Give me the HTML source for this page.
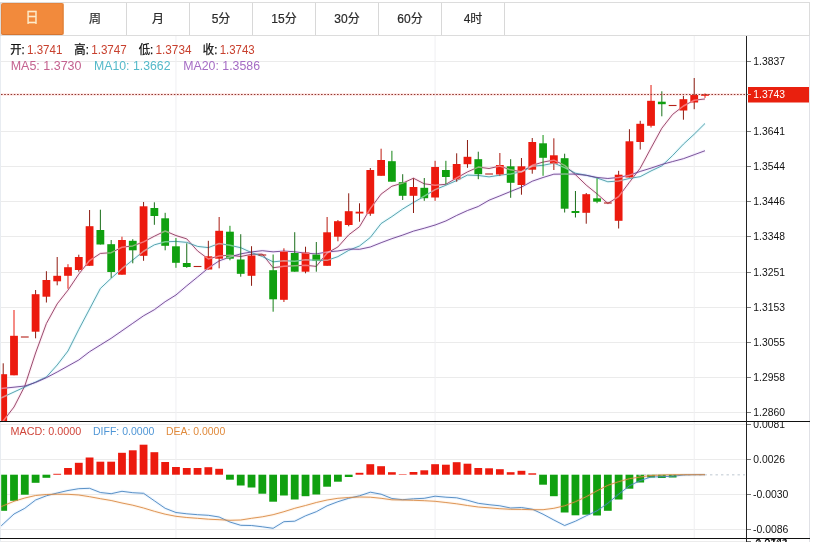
<!DOCTYPE html>
<html lang="zh-CN"><head><meta charset="utf-8"><title>K线图</title>
<style>
html,body{margin:0;padding:0;background:#fff;}
body{width:816px;height:542px;overflow:hidden;position:relative;font-family:"Liberation Sans","Noto Sans CJK SC",sans-serif;}
#tabs{position:absolute;left:0;top:2px;width:808px;height:32px;border:1px solid #dcdcdc;box-sizing:content-box;}
#tabs .t{position:absolute;top:0;height:32px;width:62px;border-right:1px solid #d8d8d8;text-align:center;line-height:32px;font-size:12px;color:#2a2a2a;-webkit-text-stroke:0.2px #2a2a2a;}
#tabs .t.on{background:#f28a3c;color:#fdeccb;-webkit-text-stroke:0.3px #fdeccb;border-radius:2px;left:0px;top:0px;width:62px;height:32px;border-right:1px solid #e79a5c;font-size:13.5px;line-height:29px;box-shadow:inset 0 -1px 0 0 rgba(190,100,40,.45), inset 0 0 0 1px rgba(200,110,50,.25)}
svg{position:absolute;left:0;top:0;}
text{font-family:"Liberation Sans","Noto Sans CJK SC",sans-serif;}
</style></head><body>
<div id="tabs">
<div class="t on">日</div>
<div class="t" style="left:63px">周</div>
<div class="t" style="left:126px">月</div>
<div class="t" style="left:189px">5分</div>
<div class="t" style="left:252px">15分</div>
<div class="t" style="left:315px">30分</div>
<div class="t" style="left:378px">60分</div>
<div class="t" style="left:441px">4时</div>
</div>
<svg width="816" height="542" viewBox="0 0 816 542">
<g shape-rendering="crispEdges">
<rect x="0" y="36" width="1" height="506" fill="#e8ecf1"/>
<rect x="809" y="36" width="1" height="506" fill="#e0e1e6"/>
<rect x="1" y="61" width="745" height="1" fill="#ebebeb"/>
<rect x="1" y="131" width="745" height="1" fill="#ebebeb"/>
<rect x="1" y="166" width="745" height="1" fill="#ebebeb"/>
<rect x="1" y="201" width="745" height="1" fill="#ebebeb"/>
<rect x="1" y="236" width="745" height="1" fill="#ebebeb"/>
<rect x="1" y="272" width="745" height="1" fill="#ebebeb"/>
<rect x="1" y="307" width="745" height="1" fill="#ebebeb"/>
<rect x="1" y="342" width="745" height="1" fill="#ebebeb"/>
<rect x="1" y="377" width="745" height="1" fill="#ebebeb"/>
<rect x="1" y="412" width="745" height="1" fill="#ebebeb"/>
<rect x="1" y="424" width="746" height="1" fill="#ebebeb"/>
<rect x="1" y="459" width="746" height="1" fill="#ebebeb"/>
<rect x="1" y="494" width="746" height="1" fill="#ebebeb"/>
<rect x="1" y="529" width="746" height="1" fill="#ebebeb"/>
</g>
<rect x="175.45" y="36" width="1" height="502" fill="#efeff2"/>
<rect x="434.58" y="36" width="1" height="502" fill="#efeff2"/>
<rect x="693.71" y="36" width="1" height="502" fill="#efeff2"/>
<g clip-path="url(#cm)">
<defs><clipPath id="cm"><rect x="1.2" y="36" width="745" height="385"/></clipPath><clipPath id="cs"><rect x="1.2" y="422" width="745" height="116"/></clipPath><clipPath id="cz"><rect x="636" y="470" width="110" height="10"/></clipPath></defs>
<polyline fill="none" stroke="#ff4fa0" stroke-opacity="0.09" stroke-width="3" stroke-linejoin="round" points="0,425.15 3.2,421 14,407 24.79,386 35.59,353 46.39,323.54 57.19,303.86 67.98,290.14 78.78,274.14 89.58,260.54 100.37,253.44 111.17,252.68 121.97,247.24 132.76,245.9 143.56,241.92 154.36,236.22 165.16,230.98 175.95,235.54 186.75,238.88 197.55,250.92 208.34,258.98 219.14,255.98 229.94,255.16 240.73,256.52 251.53,254.32 262.33,254.06 273.12,267.76 283.92,266.28 294.72,265.86 305.52,265.26 316.31,266.38 327.11,252.98 337.91,246.96 348.7,234.86 359.5,226.7 370.3,208.58 381.1,194.12 391.89,186.22 402.69,183.14 413.49,178.2 424.28,183.84 435.08,185.24 445.88,184.3 456.67,177.94 467.47,171.9 478.27,167.1 489.06,168.5 499.86,166.1 510.66,169.86 521.46,171.76 532.25,165.32 543.05,162.08 553.85,160.14 564.64,165.32 575.44,174.66 586.24,185.1 597.04,193.88 607.83,203.42 618.63,196.62 629.43,182.28 640.22,168.2 651.02,148.02 661.82,128.26 672.61,114.42 683.41,106 694.21,100.24 705.01,98.94"/><polyline fill="none" stroke="#862f55" stroke-width="0.85" stroke-linejoin="round" points="0,425.15 3.2,421 14,407 24.79,386 35.59,353 46.39,323.54 57.19,303.86 67.98,290.14 78.78,274.14 89.58,260.54 100.37,253.44 111.17,252.68 121.97,247.24 132.76,245.9 143.56,241.92 154.36,236.22 165.16,230.98 175.95,235.54 186.75,238.88 197.55,250.92 208.34,258.98 219.14,255.98 229.94,255.16 240.73,256.52 251.53,254.32 262.33,254.06 273.12,267.76 283.92,266.28 294.72,265.86 305.52,265.26 316.31,266.38 327.11,252.98 337.91,246.96 348.7,234.86 359.5,226.7 370.3,208.58 381.1,194.12 391.89,186.22 402.69,183.14 413.49,178.2 424.28,183.84 435.08,185.24 445.88,184.3 456.67,177.94 467.47,171.9 478.27,167.1 489.06,168.5 499.86,166.1 510.66,169.86 521.46,171.76 532.25,165.32 543.05,162.08 553.85,160.14 564.64,165.32 575.44,174.66 586.24,185.1 597.04,193.88 607.83,203.42 618.63,196.62 629.43,182.28 640.22,168.2 651.02,148.02 661.82,128.26 672.61,114.42 683.41,106 694.21,100.24 705.01,98.94"/>
<polyline fill="none" stroke="#20d8f0" stroke-opacity="0.09" stroke-width="3" stroke-linejoin="round" points="0,398.48 3.2,397 14,392 24.79,387 35.59,382 46.39,377 57.19,365 67.98,351 78.78,329.5 89.58,309 100.37,288.49 111.17,278.27 121.97,268.69 132.76,260.02 143.56,251.23 154.36,244.83 165.16,241.83 175.95,241.39 186.75,242.39 197.55,246.42 208.34,247.6 219.14,243.48 229.94,245.35 240.73,247.7 251.53,252.62 262.33,256.52 273.12,261.87 283.92,260.72 294.72,261.19 305.52,259.79 316.31,260.22 327.11,260.37 337.91,256.62 348.7,250.36 359.5,245.98 370.3,237.48 381.1,223.55 391.89,216.59 402.69,209 413.49,202.45 424.28,196.21 435.08,189.68 445.88,185.26 456.67,180.54 467.47,175.05 478.27,175.47 489.06,176.87 499.86,175.2 510.66,173.9 521.46,171.83 532.25,166.21 543.05,165.29 553.85,163.12 564.64,167.59 575.44,173.21 586.24,175.21 597.04,177.98 607.83,181.78 618.63,180.97 629.43,178.47 640.22,176.65 651.02,170.95 661.82,165.84 672.61,155.52 683.41,144.14 694.21,134.22 705.01,123.48"/><polyline fill="none" stroke="#3f929f" stroke-width="0.85" stroke-linejoin="round" points="0,398.48 3.2,397 14,392 24.79,387 35.59,382 46.39,377 57.19,365 67.98,351 78.78,329.5 89.58,309 100.37,288.49 111.17,278.27 121.97,268.69 132.76,260.02 143.56,251.23 154.36,244.83 165.16,241.83 175.95,241.39 186.75,242.39 197.55,246.42 208.34,247.6 219.14,243.48 229.94,245.35 240.73,247.7 251.53,252.62 262.33,256.52 273.12,261.87 283.92,260.72 294.72,261.19 305.52,259.79 316.31,260.22 327.11,260.37 337.91,256.62 348.7,250.36 359.5,245.98 370.3,237.48 381.1,223.55 391.89,216.59 402.69,209 413.49,202.45 424.28,196.21 435.08,189.68 445.88,185.26 456.67,180.54 467.47,175.05 478.27,175.47 489.06,176.87 499.86,175.2 510.66,173.9 521.46,171.83 532.25,166.21 543.05,165.29 553.85,163.12 564.64,167.59 575.44,173.21 586.24,175.21 597.04,177.98 607.83,181.78 618.63,180.97 629.43,178.47 640.22,176.65 651.02,170.95 661.82,165.84 672.61,155.52 683.41,144.14 694.21,134.22 705.01,123.48"/>
<polyline fill="none" stroke="#a040ff" stroke-opacity="0.09" stroke-width="3" stroke-linejoin="round" points="0,388.63 3.2,388.3 14,387.2 24.79,386 35.59,382.5 46.39,377.7 57.19,372 67.98,366 78.78,360 89.58,351.7 100.37,345 111.17,338.3 121.97,330.8 132.76,323.3 143.56,315.8 154.36,309.7 165.16,301.7 175.95,295 186.75,285.8 197.55,277 208.34,268.05 219.14,260.88 229.94,257.02 240.73,253.86 251.53,251.93 262.33,250.68 273.12,251.85 283.92,251.06 294.72,251.79 305.52,253.11 316.31,253.91 327.11,251.93 337.91,250.99 348.7,249.03 359.5,249.3 370.3,247 381.1,242.71 391.89,238.66 402.69,235.09 413.49,231.12 424.28,228.22 435.08,225.03 445.88,220.94 456.67,215.45 467.47,210.52 478.27,206.48 489.06,200.21 499.86,195.9 510.66,191.45 521.46,187.14 532.25,181.21 543.05,177.49 553.85,174.19 564.64,174.07 575.44,174.13 586.24,175.34 597.04,177.43 607.83,178.49 618.63,177.44 629.43,175.15 640.22,171.43 651.02,168.12 661.82,164.48 672.61,161.56 683.41,158.68 694.21,154.72 705.01,150.73"/><polyline fill="none" stroke="#633a85" stroke-width="0.85" stroke-linejoin="round" points="0,388.63 3.2,388.3 14,387.2 24.79,386 35.59,382.5 46.39,377.7 57.19,372 67.98,366 78.78,360 89.58,351.7 100.37,345 111.17,338.3 121.97,330.8 132.76,323.3 143.56,315.8 154.36,309.7 165.16,301.7 175.95,295 186.75,285.8 197.55,277 208.34,268.05 219.14,260.88 229.94,257.02 240.73,253.86 251.53,251.93 262.33,250.68 273.12,251.85 283.92,251.06 294.72,251.79 305.52,253.11 316.31,253.91 327.11,251.93 337.91,250.99 348.7,249.03 359.5,249.3 370.3,247 381.1,242.71 391.89,238.66 402.69,235.09 413.49,231.12 424.28,228.22 435.08,225.03 445.88,220.94 456.67,215.45 467.47,210.52 478.27,206.48 489.06,200.21 499.86,195.9 510.66,191.45 521.46,187.14 532.25,181.21 543.05,177.49 553.85,174.19 564.64,174.07 575.44,174.13 586.24,175.34 597.04,177.43 607.83,178.49 618.63,177.44 629.43,175.15 640.22,171.43 651.02,168.12 661.82,164.48 672.61,161.56 683.41,158.68 694.21,154.72 705.01,150.73"/>
<rect x="2.7" y="363.3" width="1" height="62.7" fill="#8c1c12"/>
<rect x="-0.7" y="374.2" width="7.8" height="51.8" fill="#ec1a0e"/>
<rect x="13.5" y="310" width="1" height="65.3" fill="#eb1a0e"/>
<rect x="10.1" y="335.8" width="7.8" height="39.5" fill="#ec1a0e"/>
<rect x="20.89" y="336.45" width="7.8" height="1.1" fill="#b5221a"/>
<rect x="35.09" y="290" width="1" height="48.3" fill="#8c1c12"/>
<rect x="31.69" y="294.2" width="7.8" height="37.5" fill="#ec1a0e"/>
<rect x="45.89" y="271.2" width="1" height="31.3" fill="#8c1c12"/>
<rect x="42.49" y="280" width="7.8" height="16.7" fill="#ec1a0e"/>
<rect x="56.69" y="257" width="1" height="28.3" fill="#931c12"/>
<rect x="53.29" y="275.8" width="7.8" height="5.5" fill="#ec1a0e"/>
<rect x="67.48" y="264.2" width="1" height="24.5" fill="#e31a0e"/>
<rect x="64.08" y="267.2" width="7.8" height="8.6" fill="#ec1a0e"/>
<rect x="78.28" y="254.7" width="1" height="17" fill="#8c1c12"/>
<rect x="74.88" y="257" width="7.8" height="13" fill="#ec1a0e"/>
<rect x="89.08" y="210" width="1" height="55.8" fill="#8c1c12"/>
<rect x="85.68" y="226.2" width="7.8" height="39.6" fill="#ec1a0e"/>
<rect x="99.87" y="209.7" width="1" height="34.8" fill="#1a6e1a"/>
<rect x="96.47" y="230" width="7.8" height="14.5" fill="#10a010"/>
<rect x="110.67" y="240" width="1" height="37.8" fill="#197519"/>
<rect x="107.27" y="244.2" width="7.8" height="27.8" fill="#10a010"/>
<rect x="121.47" y="236.7" width="1" height="38" fill="#dc1a0f"/>
<rect x="118.07" y="240" width="7.8" height="34.7" fill="#ec1a0e"/>
<rect x="132.26" y="239.2" width="1" height="24.1" fill="#1a6e1a"/>
<rect x="128.86" y="240.8" width="7.8" height="9.5" fill="#10a010"/>
<rect x="143.06" y="202" width="1" height="58.8" fill="#8c1c12"/>
<rect x="139.66" y="206.3" width="7.8" height="49.5" fill="#ec1a0e"/>
<rect x="153.86" y="202.3" width="1" height="22.5" fill="#1a6e1a"/>
<rect x="150.46" y="208" width="7.8" height="8" fill="#10a010"/>
<rect x="164.66" y="212.8" width="1" height="37.5" fill="#187918"/>
<rect x="161.25" y="218.3" width="7.8" height="27.5" fill="#10a010"/>
<rect x="175.45" y="238" width="1" height="29.8" fill="#129412"/>
<rect x="172.05" y="246.3" width="7.8" height="16.5" fill="#10a010"/>
<rect x="186.25" y="243.3" width="1" height="24.5" fill="#1a6e1a"/>
<rect x="182.85" y="263" width="7.8" height="4" fill="#10a010"/>
<rect x="193.65" y="265.95" width="7.8" height="1.1" fill="#b5221a"/>
<rect x="207.84" y="240.8" width="1" height="28.7" fill="#8c1c12"/>
<rect x="204.44" y="256.3" width="7.8" height="13.2" fill="#ec1a0e"/>
<rect x="218.64" y="217" width="1" height="51.3" fill="#a91b11"/>
<rect x="215.24" y="230.8" width="7.8" height="27.9" fill="#ec1a0e"/>
<rect x="229.44" y="225.8" width="1" height="34.5" fill="#139013"/>
<rect x="226.04" y="231.7" width="7.8" height="27" fill="#10a010"/>
<rect x="240.23" y="234.2" width="1" height="42.5" fill="#1a6e1a"/>
<rect x="236.83" y="259.5" width="7.8" height="14.3" fill="#10a010"/>
<rect x="251.03" y="246.2" width="1" height="39.6" fill="#8c1c12"/>
<rect x="247.63" y="255.5" width="7.8" height="20.3" fill="#ec1a0e"/>
<rect x="258.43" y="254.45" width="7.8" height="1.1" fill="#b5221a"/>
<rect x="272.62" y="254.5" width="1" height="57.2" fill="#168116"/>
<rect x="269.23" y="270.2" width="7.8" height="29.1" fill="#10a010"/>
<rect x="283.42" y="248.3" width="1" height="53.7" fill="#c71b10"/>
<rect x="280.02" y="251.3" width="7.8" height="48.5" fill="#ec1a0e"/>
<rect x="294.22" y="232.2" width="1" height="39.5" fill="#1a6e1a"/>
<rect x="290.82" y="253" width="7.8" height="18.7" fill="#10a010"/>
<rect x="305.02" y="246.7" width="1" height="26.6" fill="#8c1c12"/>
<rect x="301.62" y="252.5" width="7.8" height="19.2" fill="#ec1a0e"/>
<rect x="315.81" y="242" width="1" height="29.7" fill="#1a6e1a"/>
<rect x="312.41" y="254.5" width="7.8" height="6.1" fill="#10a010"/>
<rect x="326.61" y="217" width="1" height="48.8" fill="#b71b10"/>
<rect x="323.21" y="232.3" width="7.8" height="33.5" fill="#ec1a0e"/>
<rect x="337.41" y="220" width="1" height="21.3" fill="#bf1b10"/>
<rect x="334.01" y="221.2" width="7.8" height="15.5" fill="#ec1a0e"/>
<rect x="348.2" y="193.3" width="1" height="33" fill="#8c1c12"/>
<rect x="344.8" y="211.2" width="7.8" height="13.8" fill="#ec1a0e"/>
<rect x="359" y="203.3" width="1" height="18.4" fill="#8c1c12"/>
<rect x="355.6" y="211.7" width="7.8" height="1.8" fill="#ec1a0e"/>
<rect x="369.8" y="168" width="1" height="47.8" fill="#8c1c12"/>
<rect x="366.4" y="170" width="7.8" height="43.7" fill="#ec1a0e"/>
<rect x="380.6" y="148.7" width="1" height="27.1" fill="#be1b10"/>
<rect x="377.2" y="160" width="7.8" height="15.8" fill="#ec1a0e"/>
<rect x="391.39" y="150.8" width="1" height="30.9" fill="#158515"/>
<rect x="387.99" y="161.2" width="7.8" height="20.5" fill="#10a010"/>
<rect x="402.19" y="174.2" width="1" height="25.8" fill="#1a6e1a"/>
<rect x="398.79" y="182.2" width="7.8" height="13.6" fill="#10a010"/>
<rect x="412.99" y="178.3" width="1" height="34.7" fill="#8c1c12"/>
<rect x="409.59" y="187" width="7.8" height="8.8" fill="#ec1a0e"/>
<rect x="423.78" y="178" width="1" height="22.8" fill="#1a6e1a"/>
<rect x="420.38" y="187.8" width="7.8" height="10.4" fill="#10a010"/>
<rect x="434.58" y="160.8" width="1" height="40" fill="#c61b10"/>
<rect x="431.18" y="167" width="7.8" height="30.5" fill="#ec1a0e"/>
<rect x="445.38" y="160.8" width="1" height="23.4" fill="#168116"/>
<rect x="441.98" y="170" width="7.8" height="7" fill="#10a010"/>
<rect x="456.17" y="153.3" width="1" height="28.4" fill="#8c1c12"/>
<rect x="452.77" y="164" width="7.8" height="15.4" fill="#ec1a0e"/>
<rect x="466.97" y="140" width="1" height="27.8" fill="#8c1c12"/>
<rect x="463.57" y="156.8" width="7.8" height="7.4" fill="#ec1a0e"/>
<rect x="477.77" y="151.7" width="1" height="27.5" fill="#1a6e1a"/>
<rect x="474.37" y="159.2" width="7.8" height="15" fill="#10a010"/>
<rect x="485.17" y="173.45" width="7.8" height="1.1" fill="#b5221a"/>
<rect x="499.36" y="153" width="1" height="22.8" fill="#aa1b11"/>
<rect x="495.96" y="165" width="7.8" height="9.5" fill="#ec1a0e"/>
<rect x="510.16" y="159.2" width="1" height="38.6" fill="#1a6e1a"/>
<rect x="506.76" y="166.3" width="7.8" height="16.5" fill="#10a010"/>
<rect x="520.96" y="158" width="1" height="36.7" fill="#8c1c12"/>
<rect x="517.56" y="166.3" width="7.8" height="18.7" fill="#ec1a0e"/>
<rect x="531.75" y="138" width="1" height="35.7" fill="#8c1c12"/>
<rect x="528.35" y="142" width="7.8" height="27.7" fill="#ec1a0e"/>
<rect x="542.55" y="135" width="1" height="40.8" fill="#139313"/>
<rect x="539.15" y="143.3" width="7.8" height="14.5" fill="#10a010"/>
<rect x="553.35" y="138.3" width="1" height="31.7" fill="#a31c11"/>
<rect x="549.95" y="155.3" width="7.8" height="8.4" fill="#ec1a0e"/>
<rect x="564.14" y="153.7" width="1" height="58.8" fill="#1a6e1a"/>
<rect x="560.74" y="158.2" width="7.8" height="50.5" fill="#10a010"/>
<rect x="574.94" y="191" width="1" height="26.5" fill="#1a6e1a"/>
<rect x="571.54" y="211" width="7.8" height="2" fill="#10a010"/>
<rect x="585.74" y="193" width="1" height="30.7" fill="#8c1c12"/>
<rect x="582.34" y="194.2" width="7.8" height="18.6" fill="#ec1a0e"/>
<rect x="596.54" y="178.3" width="1" height="24.9" fill="#129712"/>
<rect x="593.14" y="198.3" width="7.8" height="3.4" fill="#10a010"/>
<rect x="603.93" y="202.45" width="7.8" height="1.1" fill="#b5221a"/>
<rect x="618.13" y="170.8" width="1" height="57.7" fill="#8c1c12"/>
<rect x="614.73" y="174.7" width="7.8" height="46.1" fill="#ec1a0e"/>
<rect x="628.93" y="129.2" width="1" height="48.3" fill="#8c1c12"/>
<rect x="625.53" y="141.3" width="7.8" height="36.2" fill="#ec1a0e"/>
<rect x="639.72" y="120.8" width="1" height="28.7" fill="#8c1c12"/>
<rect x="636.32" y="123.8" width="7.8" height="18.2" fill="#ec1a0e"/>
<rect x="650.52" y="85" width="1" height="42.5" fill="#e21a0e"/>
<rect x="647.12" y="100.8" width="7.8" height="25" fill="#ec1a0e"/>
<rect x="661.32" y="91.3" width="1" height="25" fill="#197219"/>
<rect x="657.92" y="101.7" width="7.8" height="2.5" fill="#10a010"/>
<rect x="668.71" y="104.95" width="7.8" height="1.1" fill="#b5221a"/>
<rect x="682.91" y="95.8" width="1" height="23.9" fill="#8c1c12"/>
<rect x="679.51" y="99.2" width="7.8" height="11.3" fill="#ec1a0e"/>
<rect x="693.71" y="78" width="1" height="31.2" fill="#8c1c12"/>
<rect x="690.31" y="95" width="7.8" height="7.5" fill="#ec1a0e"/>
<rect x="704.51" y="93.4" width="1" height="4.5" fill="#ea1a0e"/>
<rect x="701.11" y="94.3" width="7.8" height="1.5" fill="#ec1a0e"/>
<defs><clipPath id="cbod"><rect x="-0.7" y="374.2" width="7.8" height="51.8"/><rect x="10.1" y="335.8" width="7.8" height="39.5"/><rect x="31.69" y="294.2" width="7.8" height="37.5"/><rect x="42.49" y="280" width="7.8" height="16.7"/><rect x="53.29" y="275.8" width="7.8" height="5.5"/><rect x="64.08" y="267.2" width="7.8" height="8.6"/><rect x="74.88" y="257" width="7.8" height="13"/><rect x="85.68" y="226.2" width="7.8" height="39.6"/><rect x="96.47" y="230" width="7.8" height="14.5"/><rect x="107.27" y="244.2" width="7.8" height="27.8"/><rect x="118.07" y="240" width="7.8" height="34.7"/><rect x="128.86" y="240.8" width="7.8" height="9.5"/><rect x="139.66" y="206.3" width="7.8" height="49.5"/><rect x="150.46" y="208" width="7.8" height="8"/><rect x="161.25" y="218.3" width="7.8" height="27.5"/><rect x="172.05" y="246.3" width="7.8" height="16.5"/><rect x="182.85" y="263" width="7.8" height="4"/><rect x="204.44" y="256.3" width="7.8" height="13.2"/><rect x="215.24" y="230.8" width="7.8" height="27.9"/><rect x="226.04" y="231.7" width="7.8" height="27"/><rect x="236.83" y="259.5" width="7.8" height="14.3"/><rect x="247.63" y="255.5" width="7.8" height="20.3"/><rect x="269.23" y="270.2" width="7.8" height="29.1"/><rect x="280.02" y="251.3" width="7.8" height="48.5"/><rect x="290.82" y="253" width="7.8" height="18.7"/><rect x="301.62" y="252.5" width="7.8" height="19.2"/><rect x="312.41" y="254.5" width="7.8" height="6.1"/><rect x="323.21" y="232.3" width="7.8" height="33.5"/><rect x="334.01" y="221.2" width="7.8" height="15.5"/><rect x="344.8" y="211.2" width="7.8" height="13.8"/><rect x="355.6" y="211.7" width="7.8" height="1.8"/><rect x="366.4" y="170" width="7.8" height="43.7"/><rect x="377.2" y="160" width="7.8" height="15.8"/><rect x="387.99" y="161.2" width="7.8" height="20.5"/><rect x="398.79" y="182.2" width="7.8" height="13.6"/><rect x="409.59" y="187" width="7.8" height="8.8"/><rect x="420.38" y="187.8" width="7.8" height="10.4"/><rect x="431.18" y="167" width="7.8" height="30.5"/><rect x="441.98" y="170" width="7.8" height="7"/><rect x="452.77" y="164" width="7.8" height="15.4"/><rect x="463.57" y="156.8" width="7.8" height="7.4"/><rect x="474.37" y="159.2" width="7.8" height="15"/><rect x="495.96" y="165" width="7.8" height="9.5"/><rect x="506.76" y="166.3" width="7.8" height="16.5"/><rect x="517.56" y="166.3" width="7.8" height="18.7"/><rect x="528.35" y="142" width="7.8" height="27.7"/><rect x="539.15" y="143.3" width="7.8" height="14.5"/><rect x="549.95" y="155.3" width="7.8" height="8.4"/><rect x="560.74" y="158.2" width="7.8" height="50.5"/><rect x="571.54" y="211" width="7.8" height="2"/><rect x="582.34" y="194.2" width="7.8" height="18.6"/><rect x="593.14" y="198.3" width="7.8" height="3.4"/><rect x="614.73" y="174.7" width="7.8" height="46.1"/><rect x="625.53" y="141.3" width="7.8" height="36.2"/><rect x="636.32" y="123.8" width="7.8" height="18.2"/><rect x="647.12" y="100.8" width="7.8" height="25"/><rect x="657.92" y="101.7" width="7.8" height="2.5"/><rect x="679.51" y="99.2" width="7.8" height="11.3"/><rect x="690.31" y="95" width="7.8" height="7.5"/><rect x="701.11" y="94.3" width="7.8" height="1.5"/></clipPath></defs>
<g clip-path="url(#cbod)">
<polyline fill="none" stroke="#ffd0e0" stroke-opacity="0.5" stroke-width="1.5" stroke-linejoin="round" points="0,425.15 3.2,421 14,407 24.79,386 35.59,353 46.39,323.54 57.19,303.86 67.98,290.14 78.78,274.14 89.58,260.54 100.37,253.44 111.17,252.68 121.97,247.24 132.76,245.9 143.56,241.92 154.36,236.22 165.16,230.98 175.95,235.54 186.75,238.88 197.55,250.92 208.34,258.98 219.14,255.98 229.94,255.16 240.73,256.52 251.53,254.32 262.33,254.06 273.12,267.76 283.92,266.28 294.72,265.86 305.52,265.26 316.31,266.38 327.11,252.98 337.91,246.96 348.7,234.86 359.5,226.7 370.3,208.58 381.1,194.12 391.89,186.22 402.69,183.14 413.49,178.2 424.28,183.84 435.08,185.24 445.88,184.3 456.67,177.94 467.47,171.9 478.27,167.1 489.06,168.5 499.86,166.1 510.66,169.86 521.46,171.76 532.25,165.32 543.05,162.08 553.85,160.14 564.64,165.32 575.44,174.66 586.24,185.1 597.04,193.88 607.83,203.42 618.63,196.62 629.43,182.28 640.22,168.2 651.02,148.02 661.82,128.26 672.61,114.42 683.41,106 694.21,100.24 705.01,98.94"/>
<polyline fill="none" stroke="#d8fbff" stroke-opacity="0.5" stroke-width="1.5" stroke-linejoin="round" points="0,398.48 3.2,397 14,392 24.79,387 35.59,382 46.39,377 57.19,365 67.98,351 78.78,329.5 89.58,309 100.37,288.49 111.17,278.27 121.97,268.69 132.76,260.02 143.56,251.23 154.36,244.83 165.16,241.83 175.95,241.39 186.75,242.39 197.55,246.42 208.34,247.6 219.14,243.48 229.94,245.35 240.73,247.7 251.53,252.62 262.33,256.52 273.12,261.87 283.92,260.72 294.72,261.19 305.52,259.79 316.31,260.22 327.11,260.37 337.91,256.62 348.7,250.36 359.5,245.98 370.3,237.48 381.1,223.55 391.89,216.59 402.69,209 413.49,202.45 424.28,196.21 435.08,189.68 445.88,185.26 456.67,180.54 467.47,175.05 478.27,175.47 489.06,176.87 499.86,175.2 510.66,173.9 521.46,171.83 532.25,166.21 543.05,165.29 553.85,163.12 564.64,167.59 575.44,173.21 586.24,175.21 597.04,177.98 607.83,181.78 618.63,180.97 629.43,178.47 640.22,176.65 651.02,170.95 661.82,165.84 672.61,155.52 683.41,144.14 694.21,134.22 705.01,123.48"/>
<polyline fill="none" stroke="#ecd8ff" stroke-opacity="0.5" stroke-width="1.5" stroke-linejoin="round" points="0,388.63 3.2,388.3 14,387.2 24.79,386 35.59,382.5 46.39,377.7 57.19,372 67.98,366 78.78,360 89.58,351.7 100.37,345 111.17,338.3 121.97,330.8 132.76,323.3 143.56,315.8 154.36,309.7 165.16,301.7 175.95,295 186.75,285.8 197.55,277 208.34,268.05 219.14,260.88 229.94,257.02 240.73,253.86 251.53,251.93 262.33,250.68 273.12,251.85 283.92,251.06 294.72,251.79 305.52,253.11 316.31,253.91 327.11,251.93 337.91,250.99 348.7,249.03 359.5,249.3 370.3,247 381.1,242.71 391.89,238.66 402.69,235.09 413.49,231.12 424.28,228.22 435.08,225.03 445.88,220.94 456.67,215.45 467.47,210.52 478.27,206.48 489.06,200.21 499.86,195.9 510.66,191.45 521.46,187.14 532.25,181.21 543.05,177.49 553.85,174.19 564.64,174.07 575.44,174.13 586.24,175.34 597.04,177.43 607.83,178.49 618.63,177.44 629.43,175.15 640.22,171.43 651.02,168.12 661.82,164.48 672.61,161.56 683.41,158.68 694.21,154.72 705.01,150.73"/>
</g>
</g>
<line x1="1" y1="94.5" x2="746" y2="94.5" stroke="#ff5a50" stroke-opacity="0.12" stroke-width="3"/>
<line x1="1" y1="94.5" x2="746" y2="94.5" stroke="#93382f" stroke-width="1" stroke-dasharray="1.6 1.6"/>
<g clip-path="url(#cs)">
<rect x="-0.7" y="474.7" width="7.8" height="36.1" fill="#10a010"/>
<rect x="10.1" y="474.7" width="7.8" height="26.1" fill="#10a010"/>
<rect x="20.89" y="474.7" width="7.8" height="20" fill="#10a010"/>
<rect x="31.69" y="474.7" width="7.8" height="8.1" fill="#10a010"/>
<rect x="42.49" y="474.7" width="7.8" height="3.1" fill="#10a010"/>
<rect x="53.29" y="473.8" width="7.8" height="0.9" fill="#ec1a0e"/>
<rect x="64.08" y="468" width="7.8" height="6.7" fill="#ec1a0e"/>
<rect x="74.88" y="462.8" width="7.8" height="11.9" fill="#ec1a0e"/>
<rect x="85.68" y="457.5" width="7.8" height="17.2" fill="#ec1a0e"/>
<rect x="96.47" y="461.7" width="7.8" height="13" fill="#ec1a0e"/>
<rect x="107.27" y="461.7" width="7.8" height="13" fill="#ec1a0e"/>
<rect x="118.07" y="452.8" width="7.8" height="21.9" fill="#ec1a0e"/>
<rect x="128.86" y="450.3" width="7.8" height="24.4" fill="#ec1a0e"/>
<rect x="139.66" y="444.7" width="7.8" height="30" fill="#ec1a0e"/>
<rect x="150.46" y="452.2" width="7.8" height="22.5" fill="#ec1a0e"/>
<rect x="161.25" y="462" width="7.8" height="12.7" fill="#ec1a0e"/>
<rect x="172.05" y="467" width="7.8" height="7.7" fill="#ec1a0e"/>
<rect x="182.85" y="468" width="7.8" height="6.7" fill="#ec1a0e"/>
<rect x="193.65" y="468" width="7.8" height="6.7" fill="#ec1a0e"/>
<rect x="204.44" y="467.2" width="7.8" height="7.5" fill="#ec1a0e"/>
<rect x="215.24" y="468.8" width="7.8" height="5.9" fill="#ec1a0e"/>
<rect x="226.04" y="474.7" width="7.8" height="5" fill="#10a010"/>
<rect x="236.83" y="474.7" width="7.8" height="10.8" fill="#10a010"/>
<rect x="247.63" y="474.7" width="7.8" height="12.8" fill="#10a010"/>
<rect x="258.43" y="474.7" width="7.8" height="19" fill="#10a010"/>
<rect x="269.23" y="474.7" width="7.8" height="27" fill="#10a010"/>
<rect x="280.02" y="474.7" width="7.8" height="20.8" fill="#10a010"/>
<rect x="290.82" y="474.7" width="7.8" height="24.8" fill="#10a010"/>
<rect x="301.62" y="474.7" width="7.8" height="21.5" fill="#10a010"/>
<rect x="312.41" y="474.7" width="7.8" height="19.8" fill="#10a010"/>
<rect x="323.21" y="474.7" width="7.8" height="12" fill="#10a010"/>
<rect x="334.01" y="474.7" width="7.8" height="7" fill="#10a010"/>
<rect x="344.8" y="474.7" width="7.8" height="2.3" fill="#10a010"/>
<rect x="355.6" y="472.8" width="7.8" height="1.9" fill="#ec1a0e"/>
<rect x="366.4" y="464.2" width="7.8" height="10.5" fill="#ec1a0e"/>
<rect x="377.2" y="466.2" width="7.8" height="8.5" fill="#ec1a0e"/>
<rect x="387.99" y="472.2" width="7.8" height="2.5" fill="#ec1a0e"/>
<rect x="398.79" y="474.2" width="7.8" height="0.5" fill="#ec1a0e"/>
<rect x="409.59" y="472" width="7.8" height="2.7" fill="#ec1a0e"/>
<rect x="420.38" y="470.3" width="7.8" height="4.4" fill="#ec1a0e"/>
<rect x="431.18" y="464.2" width="7.8" height="10.5" fill="#ec1a0e"/>
<rect x="441.98" y="464.7" width="7.8" height="10" fill="#ec1a0e"/>
<rect x="452.77" y="462.2" width="7.8" height="12.5" fill="#ec1a0e"/>
<rect x="463.57" y="463.7" width="7.8" height="11" fill="#ec1a0e"/>
<rect x="474.37" y="468" width="7.8" height="6.7" fill="#ec1a0e"/>
<rect x="485.17" y="468.3" width="7.8" height="6.4" fill="#ec1a0e"/>
<rect x="495.96" y="469.2" width="7.8" height="5.5" fill="#ec1a0e"/>
<rect x="506.76" y="472.2" width="7.8" height="2.5" fill="#ec1a0e"/>
<rect x="517.56" y="470.8" width="7.8" height="3.9" fill="#ec1a0e"/>
<rect x="528.35" y="473.3" width="7.8" height="1.4" fill="#ec1a0e"/>
<rect x="539.15" y="474.7" width="7.8" height="10" fill="#10a010"/>
<rect x="549.95" y="474.7" width="7.8" height="21.5" fill="#10a010"/>
<rect x="560.74" y="474.7" width="7.8" height="37.8" fill="#10a010"/>
<rect x="571.54" y="474.7" width="7.8" height="40.6" fill="#10a010"/>
<rect x="582.34" y="474.7" width="7.8" height="40" fill="#10a010"/>
<rect x="593.14" y="474.7" width="7.8" height="40.8" fill="#10a010"/>
<rect x="603.93" y="474.7" width="7.8" height="36.1" fill="#10a010"/>
<rect x="614.73" y="474.7" width="7.8" height="24.8" fill="#10a010"/>
<rect x="625.53" y="474.7" width="7.8" height="14" fill="#10a010"/>
<rect x="636.32" y="474.7" width="7.8" height="7.8" fill="#10a010"/>
<rect x="647.12" y="474.7" width="7.8" height="2.8" fill="#10a010"/>
<rect x="657.92" y="474.7" width="7.8" height="3.3" fill="#10a010"/>
<rect x="668.71" y="474.7" width="7.8" height="2.8" fill="#10a010"/>
<rect x="679.51" y="474.7" width="7.8" height="0.3" fill="#10a010"/>
<line x1="0.5" y1="474.7" x2="745" y2="474.7" stroke="#d3dae0" stroke-width="1.4" stroke-dasharray="2.4 3.1" clip-path="url(#cz)"/>
<polyline fill="none" stroke="#40a0ff" stroke-opacity="0.09" stroke-width="3" stroke-linejoin="round" points="0,526.96 3.2,524 14,514 24.79,508.3 35.59,500 46.39,495.8 57.19,493 67.98,490.5 78.78,488.7 89.58,488.3 100.37,492.5 111.17,493.7 121.97,491.3 132.76,492.7 143.56,493.3 154.36,500.8 165.16,508.3 175.95,512.5 186.75,513.8 197.55,514.7 208.34,515.3 219.14,517 229.94,522 240.73,525.3 251.53,525.5 262.33,526.8 273.12,528.3 283.92,521.7 294.72,521.2 305.52,515.8 316.31,511.7 327.11,505.8 337.91,501.7 348.7,498.3 359.5,495.8 370.3,492.2 381.1,494.2 391.89,498.5 402.69,499.7 413.49,498.8 424.28,498.3 435.08,496.2 445.88,497.2 456.67,497.8 467.47,500.3 478.27,503.3 489.06,504.7 499.86,505.8 510.66,508 521.46,507.5 532.25,509.2 543.05,514.2 553.85,520 564.64,525.5 575.44,521.2 586.24,515.8 597.04,510.8 607.83,503.3 618.63,494.2 629.43,485.8 640.22,480.5 651.02,477 661.82,476.7 672.61,476.3 683.41,475 694.21,474.7 705.01,474.7"/><polyline fill="none" stroke="#4a86c0" stroke-width="0.9" stroke-linejoin="round" points="0,526.96 3.2,524 14,514 24.79,508.3 35.59,500 46.39,495.8 57.19,493 67.98,490.5 78.78,488.7 89.58,488.3 100.37,492.5 111.17,493.7 121.97,491.3 132.76,492.7 143.56,493.3 154.36,500.8 165.16,508.3 175.95,512.5 186.75,513.8 197.55,514.7 208.34,515.3 219.14,517 229.94,522 240.73,525.3 251.53,525.5 262.33,526.8 273.12,528.3 283.92,521.7 294.72,521.2 305.52,515.8 316.31,511.7 327.11,505.8 337.91,501.7 348.7,498.3 359.5,495.8 370.3,492.2 381.1,494.2 391.89,498.5 402.69,499.7 413.49,498.8 424.28,498.3 435.08,496.2 445.88,497.2 456.67,497.8 467.47,500.3 478.27,503.3 489.06,504.7 499.86,505.8 510.66,508 521.46,507.5 532.25,509.2 543.05,514.2 553.85,520 564.64,525.5 575.44,521.2 586.24,515.8 597.04,510.8 607.83,503.3 618.63,494.2 629.43,485.8 640.22,480.5 651.02,477 661.82,476.7 672.61,476.3 683.41,475 694.21,474.7 705.01,474.7"/>
<polyline fill="none" stroke="#ff9020" stroke-opacity="0.09" stroke-width="3" stroke-linejoin="round" points="0,507.13 3.2,505.8 14,501.3 24.79,498 35.59,495.5 46.39,494.5 57.19,494.2 67.98,494.3 78.78,495 89.58,496.7 100.37,498.7 111.17,500.5 121.97,503 132.76,505.2 143.56,508 154.36,511.3 165.16,514.2 175.95,516.3 186.75,517.5 197.55,518.3 208.34,519.2 219.14,519.7 229.94,520.3 240.73,520 251.53,518.3 262.33,516.8 273.12,514.7 283.92,511.7 294.72,508.3 305.52,505.5 316.31,502.5 327.11,500 337.91,498.3 348.7,497.5 359.5,497 370.3,497.2 381.1,498.3 391.89,499.8 402.69,500 413.49,500.3 424.28,500.7 435.08,501.3 445.88,502.5 456.67,503.8 467.47,505.5 478.27,507 489.06,507.8 499.86,508.7 510.66,509.3 521.46,509.4 532.25,509.7 543.05,509.7 553.85,508.3 564.64,505.8 575.44,501.7 586.24,496.7 597.04,490.8 607.83,485.3 618.63,481.7 629.43,478.7 640.22,477 651.02,475.5 661.82,475 672.61,474.7 683.41,474.7 694.21,474.7 705.01,474.7"/><polyline fill="none" stroke="#d98a45" stroke-width="0.9" stroke-linejoin="round" points="0,507.13 3.2,505.8 14,501.3 24.79,498 35.59,495.5 46.39,494.5 57.19,494.2 67.98,494.3 78.78,495 89.58,496.7 100.37,498.7 111.17,500.5 121.97,503 132.76,505.2 143.56,508 154.36,511.3 165.16,514.2 175.95,516.3 186.75,517.5 197.55,518.3 208.34,519.2 219.14,519.7 229.94,520.3 240.73,520 251.53,518.3 262.33,516.8 273.12,514.7 283.92,511.7 294.72,508.3 305.52,505.5 316.31,502.5 327.11,500 337.91,498.3 348.7,497.5 359.5,497 370.3,497.2 381.1,498.3 391.89,499.8 402.69,500 413.49,500.3 424.28,500.7 435.08,501.3 445.88,502.5 456.67,503.8 467.47,505.5 478.27,507 489.06,507.8 499.86,508.7 510.66,509.3 521.46,509.4 532.25,509.7 543.05,509.7 553.85,508.3 564.64,505.8 575.44,501.7 586.24,496.7 597.04,490.8 607.83,485.3 618.63,481.7 629.43,478.7 640.22,477 651.02,475.5 661.82,475 672.61,474.7 683.41,474.7 694.21,474.7 705.01,474.7"/>
</g>
<g shape-rendering="crispEdges">
<rect x="0" y="421" width="810" height="1" fill="#111"/>
<rect x="0" y="538" width="810" height="1" fill="#111"/>
<rect x="746" y="36" width="1" height="506" fill="#222"/>
<rect x="747" y="61" width="3.5" height="1" fill="#777"/>
<rect x="747" y="131" width="3.5" height="1" fill="#777"/>
<rect x="747" y="166" width="3.5" height="1" fill="#777"/>
<rect x="747" y="201" width="3.5" height="1" fill="#777"/>
<rect x="747" y="236" width="3.5" height="1" fill="#777"/>
<rect x="747" y="272" width="3.5" height="1" fill="#777"/>
<rect x="747" y="307" width="3.5" height="1" fill="#777"/>
<rect x="747" y="342" width="3.5" height="1" fill="#777"/>
<rect x="747" y="377" width="3.5" height="1" fill="#777"/>
<rect x="747" y="412" width="3.5" height="1" fill="#777"/>
<rect x="747" y="94" width="3.5" height="1" fill="#777"/>
<rect x="747" y="424" width="3.5" height="1" fill="#777"/>
<rect x="747" y="459" width="3.5" height="1" fill="#777"/>
<rect x="747" y="494" width="3.5" height="1" fill="#777"/>
<rect x="747" y="529" width="3.5" height="1" fill="#777"/>
<rect x="747" y="541" width="3.5" height="1" fill="#777"/>
</g>
<rect x="748" y="87" width="61" height="15.5" fill="#e9200e"/>
<rect x="748" y="94" width="3" height="1" fill="#f7b9b0"/>
<rect x="1" y="541" width="745" height="1" fill="#ececec"/>
<text x="753.3" y="65.2" fill="#111" font-size="10.8" textLength="31.6" lengthAdjust="spacingAndGlyphs">1.3837</text>
<text x="753.3" y="135.2" fill="#111" font-size="10.8" textLength="31.6" lengthAdjust="spacingAndGlyphs">1.3641</text>
<text x="753.3" y="170.2" fill="#111" font-size="10.8" textLength="31.6" lengthAdjust="spacingAndGlyphs">1.3544</text>
<text x="753.3" y="205.2" fill="#111" font-size="10.8" textLength="31.6" lengthAdjust="spacingAndGlyphs">1.3446</text>
<text x="753.3" y="240.2" fill="#111" font-size="10.8" textLength="31.6" lengthAdjust="spacingAndGlyphs">1.3348</text>
<text x="753.3" y="276.2" fill="#111" font-size="10.8" textLength="31.6" lengthAdjust="spacingAndGlyphs">1.3251</text>
<text x="753.3" y="311.2" fill="#111" font-size="10.8" textLength="31.6" lengthAdjust="spacingAndGlyphs">1.3153</text>
<text x="753.3" y="346.2" fill="#111" font-size="10.8" textLength="31.6" lengthAdjust="spacingAndGlyphs">1.3055</text>
<text x="753.3" y="381.2" fill="#111" font-size="10.8" textLength="31.6" lengthAdjust="spacingAndGlyphs">1.2958</text>
<text x="753.3" y="416.2" fill="#111" font-size="10.8" textLength="31.6" lengthAdjust="spacingAndGlyphs">1.2860</text>
<text x="753.3" y="98.3" fill="#fff" font-size="10.8" textLength="31.6" lengthAdjust="spacingAndGlyphs">1.3743</text>
<g clip-path="url(#cl)"><defs><clipPath id="cl"><rect x="747" y="422" width="69" height="120"/></clipPath></defs>
<text x="753.3" y="428.2" fill="#111" font-size="10.8" textLength="31.6" lengthAdjust="spacingAndGlyphs">0.0081</text>
<text x="753.3" y="463.2" fill="#111" font-size="10.8" textLength="31.6" lengthAdjust="spacingAndGlyphs">0.0026</text>
<text x="753" y="498.2" fill="#111" font-size="10.8" textLength="35.4" lengthAdjust="spacingAndGlyphs">-0.0030</text>
<text x="753" y="533.2" fill="#111" font-size="10.8" textLength="35.4" lengthAdjust="spacingAndGlyphs">-0.0086</text>
</g>
<g clip-path="url(#cb)"><defs><clipPath id="cb"><rect x="747" y="539" width="69" height="3"/></clipPath></defs>
<text x="751.5" y="547.2" fill="#111" font-size="10.7" textLength="37" lengthAdjust="spacingAndGlyphs">-0.0141</text>
<text x="756" y="547.4" fill="#111" font-size="10.7" textLength="31.6" lengthAdjust="spacingAndGlyphs">1.2763</text>
</g>
<text x="10.2" y="54.2" fill="#111" font-size="12" textLength="14.5" lengthAdjust="spacingAndGlyphs" stroke="#111" stroke-width="0.25">开:</text>
<text x="27" y="54.2" fill="#c8402e" font-size="12" textLength="35.3" lengthAdjust="spacingAndGlyphs">1.3741</text>
<text x="74.3" y="54.2" fill="#111" font-size="12" textLength="14.5" lengthAdjust="spacingAndGlyphs" stroke="#111" stroke-width="0.25">高:</text>
<text x="91.2" y="54.2" fill="#c8402e" font-size="12" textLength="35.6" lengthAdjust="spacingAndGlyphs">1.3747</text>
<text x="138.7" y="54.2" fill="#111" font-size="12" textLength="14.5" lengthAdjust="spacingAndGlyphs" stroke="#111" stroke-width="0.25">低:</text>
<text x="155.5" y="54.2" fill="#c8402e" font-size="12" textLength="36" lengthAdjust="spacingAndGlyphs">1.3734</text>
<text x="202.8" y="54.2" fill="#111" font-size="12" textLength="14.5" lengthAdjust="spacingAndGlyphs" stroke="#111" stroke-width="0.25">收:</text>
<text x="219.7" y="54.2" fill="#c8402e" font-size="12" textLength="35" lengthAdjust="spacingAndGlyphs">1.3743</text>
<text x="10.7" y="70" fill="#c4628f" font-size="12" textLength="70.8" lengthAdjust="spacingAndGlyphs">MA5: 1.3730</text>
<text x="94" y="70" fill="#54b9c9" font-size="12" textLength="76.5" lengthAdjust="spacingAndGlyphs">MA10: 1.3662</text>
<text x="183.3" y="70" fill="#a56cc4" font-size="12" textLength="76.7" lengthAdjust="spacingAndGlyphs">MA20: 1.3586</text>
<text x="10.6" y="434.6" fill="#d0453a" font-size="11" textLength="70.6" lengthAdjust="spacingAndGlyphs">MACD: 0.0000</text>
<text x="93" y="434.6" fill="#4f96d6" font-size="11" textLength="61.4" lengthAdjust="spacingAndGlyphs">DIFF: 0.0000</text>
<text x="166" y="434.6" fill="#e08a3c" font-size="11" textLength="59.2" lengthAdjust="spacingAndGlyphs">DEA: 0.0000</text>
</svg></body></html>
